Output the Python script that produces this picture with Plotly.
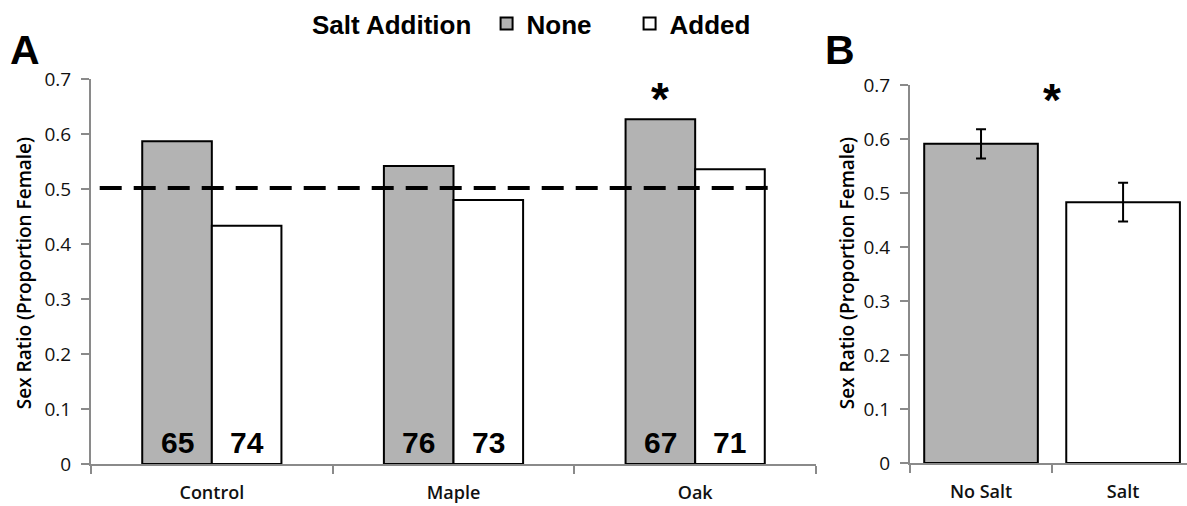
import plotly.graph_objects as go

# ---- data ----
sites = ["Control", "Maple", "Oak"]
none_ratio = [0.587, 0.542, 0.627]
added_ratio = [0.433, 0.480, 0.536]
none_n = [65, 76, 67]
added_n = [74, 73, 71]
sig_site = "Oak"

salt_groups = ["No Salt", "Salt"]
salt_ratio = [0.591, 0.483]
salt_err = [0.027, 0.036]

reference_ratio = 0.502
y_ticks = [0, 0.1, 0.2, 0.3, 0.4, 0.5, 0.6, 0.7]
y_tick_text = ["0", "0.1", "0.2", "0.3", "0.4", "0.5", "0.6", "0.7"]

GRAY = "#b3b3b3"
AXIS = "#8a8a8a"
BW = 0.288

fig = go.Figure()
fig.add_trace(go.Bar(
    x=sites, y=none_ratio, name="None", width=BW, offset=-BW,
    marker=dict(color=GRAY, line=dict(color="black", width=2)),
    xaxis="x", yaxis="y"))
fig.add_trace(go.Bar(
    x=sites, y=added_ratio, name="Added", width=BW, offset=0,
    marker=dict(color="white", line=dict(color="black", width=2)),
    xaxis="x", yaxis="y"))
fig.add_trace(go.Bar(
    x=salt_groups, y=salt_ratio, width=0.8, showlegend=False,
    marker=dict(color=[GRAY, "white"], line=dict(color="black", width=2)),
    error_y=dict(type="data", array=salt_err, color="black", thickness=2, width=5),
    xaxis="x2", yaxis="y2"))

annotations = []
for i, s in enumerate(sites):
    for n, off in ((none_n[i], -BW / 2), (added_n[i], BW / 2)):
        annotations.append(dict(
            x=i + off, y=0, xref="x", yref="y", text=str(n), showarrow=False,
            yanchor="bottom", yshift=3,
            font=dict(family="Arial", size=30, color="black", weight="bold")))

si = sites.index(sig_site)
annotations.append(dict(x=si - BW / 2, y=max(none_ratio[si], added_ratio[si]), xref="x", yref="y",
                        text="*", showarrow=False, yanchor="bottom", yshift=-8,
                        font=dict(family="Arial", size=46, color="black", weight="bold")))
annotations.append(dict(x=0.5, y=max(salt_ratio), xref="x2", yref="y2",
                        text="*", showarrow=False, yanchor="bottom", yshift=16,
                        font=dict(family="Arial", size=46, color="black", weight="bold")))

for xp in (24 / 1187, 847 / 1187):
    annotations.append(dict(x=xp, y=0.46, xref="paper", yref="paper", xanchor="center",
                            yanchor="middle",
                            text="Sex Ratio (Proportion Female)", textangle=-90, showarrow=False,
                            font=dict(family="Open Sans", size=19, color="black", weight=600)))

annotations.append(dict(x=8 / 1187, y=1 - 50 / 506, xref="paper", yref="paper", text="A",
                        xanchor="left", yanchor="middle", showarrow=False,
                        font=dict(family="Arial", size=41, color="black", weight="bold")))
annotations.append(dict(x=823 / 1187, y=1 - 50 / 506, xref="paper", yref="paper", text="B",
                        xanchor="left", yanchor="middle", showarrow=False,
                        font=dict(family="Arial", size=41, color="black", weight="bold")))

tickfont = dict(family="Open Sans", size=19, color="#111")
catfont = dict(family="Open Sans", size=18, color="#111", weight=600)

common_y = dict(range=[0, 0.7], tickvals=y_ticks, ticktext=y_tick_text, showline=True,
                linecolor=AXIS, linewidth=2, ticks="outside", ticklen=8, tickcolor=AXIS,
                tickwidth=2, showgrid=False, zeroline=False, tickfont=tickfont,
                ticklabelstandoff=6, automargin=False)
common_x = dict(type="category", showline=True, linecolor=AXIS, linewidth=2, ticks="outside",
                ticklen=8, tickcolor=AXIS, tickwidth=2, tickson="boundaries", showgrid=False,
                tickfont=catfont, ticklabelstandoff=11, automargin=False)

fig.update_layout(
    width=1187, height=506, margin=dict(l=0, r=0, t=0, b=0, autoexpand=False),
    paper_bgcolor="white", plot_bgcolor="white", barmode="overlay",
    xaxis=dict(domain=[91 / 1187, 816 / 1187], range=[-0.5, 2.5], **common_x),
    yaxis=dict(domain=[1 - 464 / 506, 1 - 79 / 506], **common_y),
    xaxis2=dict(domain=[910 / 1187, 1.0], range=[-0.5, 1.45], anchor="y2", **common_x),
    yaxis2=dict(domain=[1 - 463 / 506, 1 - 85 / 506], anchor="x2", **common_y),
    annotations=annotations,
    shapes=[dict(type="line", xref="x domain", yref="y", x0=0.012, x1=0.936,
                 y0=reference_ratio, y1=reference_ratio,
                 line=dict(color="black", width=4, dash="22px,12px"))],
    legend=dict(orientation="h", x=310 / 1187, y=1.0, xanchor="left", yanchor="top",
                title=dict(text="Salt Addition ", side="left",
                           font=dict(family="Arial", size=26, color="black", weight="bold")),
                font=dict(family="Arial", size=26, color="black", weight="bold"),
                entrywidth=98, entrywidthmode="pixels", bgcolor="rgba(0,0,0,0)"),
)

fig.write_html("out.html", config={"displayModeBar": False},
               post_script="document.body.style.margin='0';document.body.style.overflow='hidden';")
